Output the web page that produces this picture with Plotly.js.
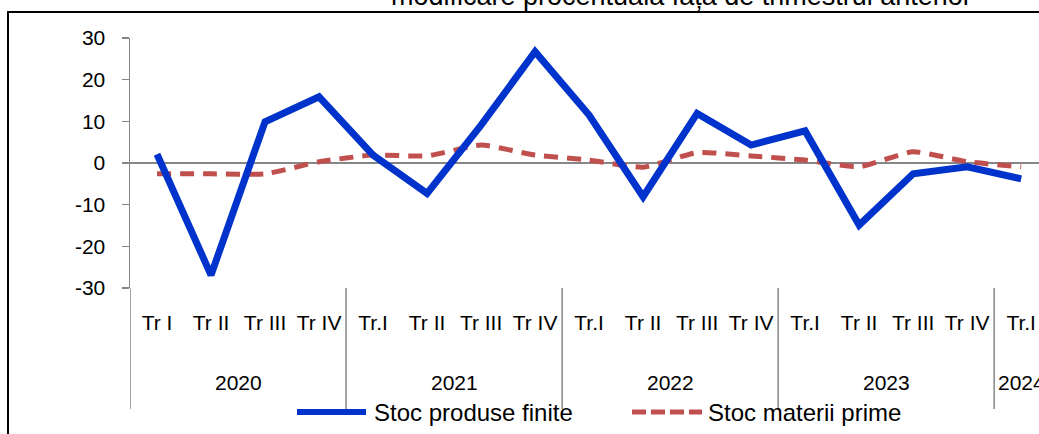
<!DOCTYPE html>
<html>
<head>
<meta charset="utf-8">
<script src="https://cdn.plot.ly/plotly-3.0.1.min.js"></script>
<style>html,body{margin:0;padding:0;background:#fff;overflow:hidden}#chart{width:1039px;height:434px}</style>
</head>
<body>
<div id="chart"></div>
<script>
const quarters = ['Tr I','Tr II','Tr III','Tr IV','Tr.I','Tr II','Tr III','Tr IV','Tr.I','Tr II','Tr III','Tr IV','Tr.I','Tr II','Tr III','Tr IV','Tr.I'];
const years = ['2020','2021','2022','2023','2024'];
const quartersPerYear = [4,4,4,4,1];
const stocProduseFinite = [2.1,-26.9,9.9,15.9,1.9,-7.3,9.1,26.7,11.5,-8.1,11.9,4.3,7.7,-14.9,-2.6,-0.9,-3.8];
const stocMateriiPrime = [-2.6,-2.6,-2.6,0.3,1.9,1.7,4.3,1.9,0.7,-1.0,2.5,1.7,0.7,-0.9,2.7,0.3,-0.9];
const seriesNames = ['Stoc produse finite','Stoc materii prime'];
const yTicks = [-30,-20,-10,0,10,20,30];
const chartTitle = 'modificare procentuală față de trimestrul anterior';

const FONT = 'Liberation Sans, Arial, sans-serif';
const GRAY = '#868686';
const BLUE = '#0033CC';
const RED = '#C0504D';

const W = 1039, H = 434, ML = 130, MT = 38, PW = 909, PH = 250;
const px = v => (v - ML) / PW;
const py = v => (MT + PH - v) / PH;

const idx = quarters.map((_, i) => i);

const traces = [
  {x: idx, y: stocMateriiPrime, type: 'scatter', mode: 'lines', name: seriesNames[1],
   line: {color: RED, width: 5, dash: '14px,9px', shape: 'spline', smoothing: 0.5}, showlegend: false},
  {x: idx, y: stocProduseFinite, type: 'scatter', mode: 'lines', name: seriesNames[0],
   line: {color: BLUE, width: 7}, showlegend: false}
];

const shapes = [];
const annotations = [];
let start = 0;
const boundaries = [-0.5];
years.forEach((yr, g) => {
  const n = quartersPerYear[g];
  annotations.push({x: start + (n - 1) / 2, xref: 'x', y: py(382), yref: 'paper', text: yr,
    showarrow: false, xanchor: 'center', yanchor: 'middle', font: {family: FONT, size: 21, color: '#000'}});
  start += n;
  boundaries.push(start - 0.5);
});
boundaries.forEach(b => {
  shapes.push({type: 'line', xref: 'x', yref: 'paper', x0: b, x1: b, y0: 0, y1: py(409),
    line: {color: GRAY, width: 1.5}, layer: 'above'});
});
shapes.push({type: 'rect', xref: 'paper', yref: 'paper', x0: px(8), x1: px(1100), y0: py(500), y1: py(12),
  line: {color: '#000', width: 2}});
shapes.push({type: 'line', xref: 'paper', yref: 'paper', x0: px(297), x1: px(366), y0: py(412), y1: py(412),
  line: {color: BLUE, width: 6}});
shapes.push({type: 'line', xref: 'paper', yref: 'paper', x0: px(632), x1: px(702), y0: py(412), y1: py(412),
  line: {color: RED, width: 5, dash: '14px,5px'}});
annotations.push({x: px(372), xref: 'paper', y: py(412), yref: 'paper', text: seriesNames[0], showarrow: false,
  xanchor: 'left', yanchor: 'middle', font: {family: FONT, size: 24, color: '#000'}});
annotations.push({x: px(706), xref: 'paper', y: py(412), yref: 'paper', text: seriesNames[1], showarrow: false,
  xanchor: 'left', yanchor: 'middle', font: {family: FONT, size: 24, color: '#000'}});
annotations.push({x: px(681), xref: 'paper', y: py(13), yref: 'paper', text: chartTitle, showarrow: false,
  xanchor: 'center', yanchor: 'bottom', font: {family: FONT, size: 27, color: '#000'}});

const layout = {
  width: W, height: H,
  margin: {l: ML, r: W - ML - PW, t: MT, b: H - MT - PH, pad: 0},
  paper_bgcolor: '#fff', plot_bgcolor: '#fff',
  showlegend: false,
  font: {family: FONT, size: 21, color: '#000'},
  xaxis: {range: [-0.5, 16.33], tickvals: idx, ticktext: quarters, showgrid: false, zeroline: false,
    showline: false, ticks: '', ticklabelstandoff: 20, tickfont: {family: FONT, size: 21, color: '#000'},
    fixedrange: true},
  yaxis: {range: [-30, 30], tickvals: yTicks, ticktext: yTicks.map(String), showgrid: false, zeroline: true,
    zerolinecolor: GRAY, zerolinewidth: 2, showline: true, linecolor: GRAY, linewidth: 1.5, ticks: 'outside',
    ticklen: 7, tickcolor: GRAY, tickwidth: 1.5, ticklabelstandoff: 12,
    tickfont: {family: FONT, size: 21, color: '#000'}, fixedrange: true},
  shapes: shapes,
  annotations: annotations
};

Plotly.newPlot('chart', traces, layout, {staticPlot: true, displayModeBar: false});
</script>
</body>
</html>
